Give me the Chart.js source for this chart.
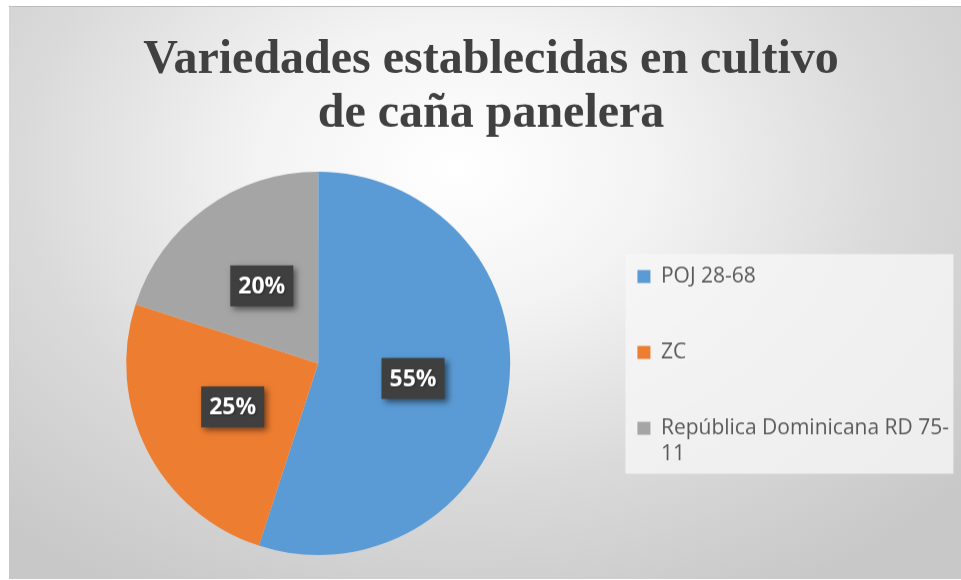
<!DOCTYPE html>
<html>
<head>
<meta charset="utf-8">
<script src="https://cdn.jsdelivr.net/npm/chart.js@4/dist/chart.umd.min.js"></script>
<style>
  html, body { margin: 0; padding: 0; background: #ffffff; }
  #wrap { position: absolute; left: 9px; top: 6px; width: 952px; height: 574px; }
  #chart {
    display: block;
    border-top: 1px solid #bcbcbc;
    background: radial-gradient(ellipse 70% 85% at 47% 28%, #ffffff 0%, #f3f3f3 30%, #dadada 65%, #c8c8c8 100%);
  }
</style>
</head>
<body>
<div id="wrap"><canvas id="chart" width="952" height="573"></canvas></div>
<script>
const categories = ['POJ 28-68', 'ZC', 'República Dominicana RD 75-11'];
const values = [55, 25, 20];
const colors = ['#5B9BD5', '#ED7D31', '#A5A5A5'];
const titleLines = ['Variedades establecidas en cultivo', 'de caña panelera'];

// legend text is wrapped like in the original
const legendWrap = { 'República Dominicana RD 75-11': ['República Dominicana RD 75-', '11'] };

// light panel behind the legend
const legendPanel = {
  id: 'legendPanel',
  beforeDraw(chart) {
    const boxes = chart.legend.legendHitBoxes;
    if (!boxes || !boxes.length) return;
    const ctx = chart.ctx;
    const first = boxes[0];
    const last = boxes[boxes.length - 1];
    const left = first.left - 12;
    const top = first.top - 12;
    ctx.save();
    ctx.fillStyle = 'rgba(246,246,246,0.8)';
    ctx.fillRect(left, top, 328, last.top + 56 - top);
    ctx.restore();
  }
};

// dark percentage boxes in the middle of each slice
const sliceLabels = {
  id: 'sliceLabels',
  afterDatasetsDraw(chart) {
    const ctx = chart.ctx;
    const total = values.reduce((a, b) => a + b, 0);
    chart.getDatasetMeta(0).data.forEach((arc, i) => {
      const p = arc.getCenterPoint();
      const txt = Math.round(values[i] / total * 100) + '%';
      ctx.save();
      ctx.font = 'bold 23px "Open Sans"';
      const w = ctx.measureText(txt).width + 16;
      const h = 41;
      ctx.shadowColor = 'rgba(0,0,0,0.5)';
      ctx.shadowBlur = 6;
      ctx.shadowOffsetX = 3;
      ctx.shadowOffsetY = 3;
      ctx.fillStyle = '#3f3f3f';
      ctx.fillRect(p.x - w / 2, p.y - h / 2, w, h);
      ctx.shadowColor = 'rgba(0,0,0,0.35)';
      ctx.shadowBlur = 2;
      ctx.shadowOffsetX = 1;
      ctx.shadowOffsetY = 1;
      ctx.fillStyle = '#ffffff';
      ctx.textAlign = 'center';
      ctx.textBaseline = 'middle';
      ctx.fillText(txt, p.x, p.y + 1);
      ctx.restore();
    });
  }
};

const ctx = document.getElementById('chart').getContext('2d');
new Chart(ctx, {
  type: 'pie',
  data: {
    labels: categories,
    datasets: [{
      data: values,
      backgroundColor: colors,
      borderWidth: 0,
      hoverOffset: 0
    }]
  },
  options: {
    responsive: false,
    animation: false,
    events: [],
    layout: { padding: { left: 14, right: 2, top: 0, bottom: 24 } },
    plugins: {
      title: {
        display: true,
        text: titleLines,
        color: '#404040',
        font: { family: 'Liberation Serif', weight: 'bold', size: 48, lineHeight: 1.14 },
        padding: { top: 26, bottom: 29.6 }
      },
      legend: {
        position: 'right',
        align: 'center',
        fullSize: false,
        title: { display: true, text: '', padding: 0, font: { size: 9, lineHeight: 1 } },
        labels: {
          boxWidth: 13,
          boxHeight: 13,
          padding: 24,
          color: '#595959',
          font: { family: 'Open Sans', size: 21, lineHeight: 26 / 21 },
          generateLabels(chart) {
            const items = Chart.overrides.pie.plugins.legend.labels.generateLabels(chart);
            items.forEach(item => {
              item.text = legendWrap[item.text] || [item.text, ''];
            });
            return items;
          }
        }
      },
      tooltip: { enabled: false }
    }
  },
  plugins: [legendPanel, sliceLabels]
});
</script>
</body>
</html>
